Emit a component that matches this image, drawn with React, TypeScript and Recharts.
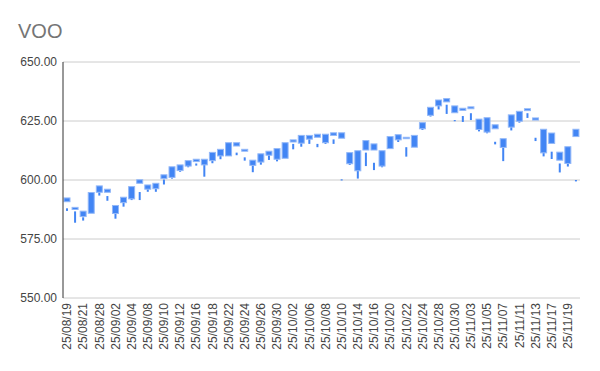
import { ComposedChart, Bar, XAxis, YAxis, CartesianGrid } from "recharts";

const dates = [
  "25/08/19", "25/08/20", "25/08/21", "25/08/22", "25/08/28", "25/08/29", "25/09/02", "25/09/03",
  "25/09/04", "25/09/05", "25/09/08", "25/09/09", "25/09/10", "25/09/11", "25/09/12", "25/09/15",
  "25/09/16", "25/09/17", "25/09/18", "25/09/19", "25/09/22", "25/09/23", "25/09/24", "25/09/25",
  "25/09/26", "25/09/29", "25/09/30", "25/10/01", "25/10/02", "25/10/03", "25/10/06", "25/10/07",
  "25/10/08", "25/10/09", "25/10/10", "25/10/13", "25/10/14", "25/10/15", "25/10/16", "25/10/17",
  "25/10/20", "25/10/21", "25/10/22", "25/10/23", "25/10/24", "25/10/27", "25/10/28", "25/10/29",
  "25/10/30", "25/10/31", "25/11/03", "25/11/04", "25/11/05", "25/11/06", "25/11/07", "25/11/10",
  "25/11/11", "25/11/12", "25/11/13", "25/11/14", "25/11/17", "25/11/18", "25/11/19", "25/11/20",
];

// candle bodies (top / bottom of the box)
const bodyHigh = [
  592.4, 588.4, 586.8, 594.7, 597.5, 596.1, 589.2, 592.7,
  597.2, 600.1, 597.9, 598.6, 602.2, 605.6, 606.4, 608.2,
  608.8, 608.8, 611.7, 613.0, 615.8, 615.8, 613.0, 608.4,
  611.1, 612.2, 613.3, 615.8, 617.0, 618.9, 618.9, 619.4,
  619.4, 620.0, 620.0, 611.6, 612.4, 616.7, 615.3, 612.4,
  618.4, 619.2, 618.1, 618.9, 624.3, 630.8, 633.9, 634.5,
  631.4, 630.4, 631.0, 625.8, 626.4, 623.4, 617.5, 627.6,
  629.1, 630.2, 626.3, 621.5, 619.9, 611.8, 614.1, 621.5,
];
const bodyLow = [
  590.8, 587.5, 584.5, 585.9, 594.8, 594.8, 585.8, 590.4,
  592.0, 598.6, 596.1, 596.3, 600.6, 601.1, 604.0, 605.9,
  607.8, 606.4, 608.2, 610.2, 610.2, 614.4, 612.2, 606.2,
  607.6, 610.5, 608.8, 609.2, 616.1, 615.6, 617.3, 618.1,
  615.8, 618.9, 617.7, 606.9, 603.9, 612.7, 612.7, 605.9,
  613.3, 617.0, 617.5, 613.9, 621.7, 627.4, 631.4, 633.1,
  628.5, 629.5, 630.2, 621.4, 620.3, 621.7, 613.8, 622.4,
  624.9, 629.4, 625.4, 611.5, 615.5, 608.4, 607.0, 618.4,
];

// wicks (thin lines), null where none is drawn
const wickHigh = [
  588.0, 586.7, 584.2, null, 594.8, 593.2, 585.8, 590.4,
  592.0, 594.9, 596.1, 596.3, 600.2, 601.1, 604.0, 605.9,
  607.0, 606.4, 608.2, 610.2, null, 611.6, 609.6, 606.2,
  607.6, 610.5, 608.8, null, 615.3, 615.6, 617.3, 615.3,
  615.8, 617.2, 600.3, 606.9, 603.9, 611.6, 607.3, 605.9,
  null, 617.0, 613.9, null, 621.7, 627.4, 631.4, 631.9,
  625.4, 627.1, 628.3, 621.4, 620.3, 616.2, 613.8, 622.4,
  624.9, 628.3, 617.9, 611.5, 612.0, 607.0, 607.0, 600.0,
];
const wickLow = [
  586.9, 581.9, 582.8, null, 593.4, 591.2, 583.6, 588.7,
  591.6, 591.5, 595.0, 595.0, 598.1, 600.8, 603.6, 605.5,
  606.1, 601.4, 607.1, 608.8, null, 610.5, 608.2, 603.3,
  606.5, 608.5, 607.9, null, 613.0, 614.1, 615.3, 613.9,
  615.3, 615.3, 599.8, 606.5, 600.6, 605.9, 604.2, 605.4,
  null, 616.1, 609.9, null, 621.2, 627.1, 629.9, 628.0,
  625.0, 624.6, 625.4, 620.6, 619.9, 615.1, 608.0, 621.0,
  624.3, 626.3, 616.5, 610.0, 608.9, 603.2, 605.7, 599.4,
];

const yTicks = [550, 575, 600, 625, 650];

const data = dates.map((d, i) => ({
  date: d,
  body: [bodyLow[i], bodyHigh[i]],
  wick: wickLow[i] == null ? null : [wickLow[i], wickHigh[i]],
}));

const BLUE = "#4285f4";

const DateTick = (props: any) => {
  const { x, y, payload } = props;
  return (
    <g transform={`translate(${x},${y})`}>
      <text
        x={0}
        y={0}
        dy="0.35em"
        textAnchor="end"
        transform="rotate(-90)"
        fill="#444"
        fontSize={12}
        fontFamily="Arial, 'Liberation Sans', sans-serif"
      >
        {payload.value}
      </text>
    </g>
  );
};

const BodyShape = (props: any) => {
  const { x, y, width, height } = props;
  if (height == null || isNaN(height)) return <g />;
  return (
    <rect
      x={x}
      y={y}
      width={width}
      height={Math.max(height, 1)}
      fill={BLUE}
      stroke="#93b8f8"
      strokeWidth={1}
    />
  );
};

const WickShape = (props: any) => {
  const { x, y, width, height, payload } = props;
  if (!payload || payload.wick == null || isNaN(height)) return <g />;
  return <rect x={x} y={y} width={width} height={Math.max(height, 1.2)} fill={BLUE} />;
};

export default function App() {
  return (
    <div
      style={{
        position: "absolute",
        left: 0,
        top: 0,
        width: 600,
        height: 371,
        background: "#fff",
        fontFamily: "Arial, 'Liberation Sans', sans-serif",
      }}
    >
      <div
        style={{
          position: "absolute",
          left: 18,
          top: 21,
          fontSize: 20,
          lineHeight: "20px",
          color: "#757575",
        }}
      >
        VOO
      </div>
      <ComposedChart
        width={600}
        height={371}
        data={data}
        margin={{ top: 62, right: 20, bottom: 0, left: 0 }}
      >
        <CartesianGrid vertical={false} stroke="#cccccc" />
        <XAxis
          dataKey="date"
          interval={1}
          height={73}
          axisLine={false}
          tickLine={false}
          tickSize={3}
          tick={<DateTick />}
        />
        <XAxis xAxisId="w" dataKey="date" hide />
        <YAxis
          domain={[550, 650]}
          ticks={yTicks}
          width={63}
          tickLine={false}
          tickSize={4}
          axisLine={{ stroke: "#333" }}
          tick={{ fill: "#444", fontSize: 12 }}
          tickFormatter={(v: number) => v.toFixed(2)}
        />
        <Bar dataKey="wick" xAxisId="w" barSize={2} shape={<WickShape />} isAnimationActive={false} />
        <Bar dataKey="body" barSize={6} shape={<BodyShape />} isAnimationActive={false} />
      </ComposedChart>
    </div>
  );
}
